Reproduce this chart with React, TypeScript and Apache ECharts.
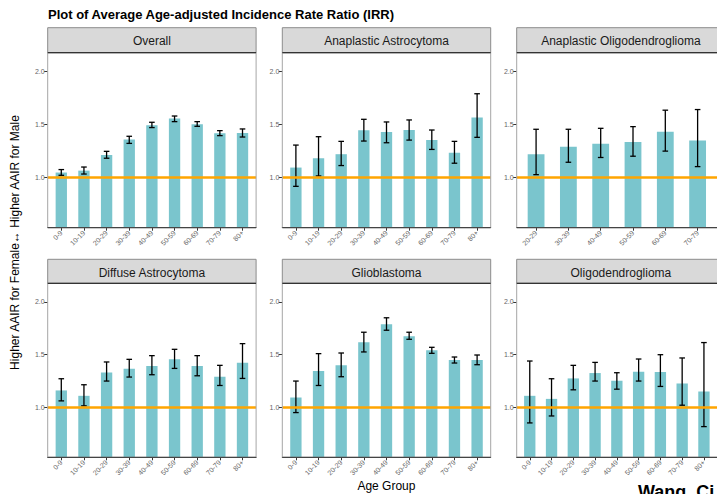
import React, { useEffect, useRef } from "react";
import * as echarts from "echarts";

// ---------- Data ----------
const PANEL_TITLES = [
  "Overall",
  "Anaplastic Astrocytoma",
  "Anaplastic Oligodendroglioma",
  "Diffuse Astrocytoma",
  "Glioblastoma",
  "Oligodendroglioma",
];
const AGE_GROUPS = ["0-9", "10-19", "20-29", "30-39", "40-49", "50-59", "60-69", "70-79", "80+"];
const AGE_GROUPS_AO = ["20-29", "30-39", "40-49", "50-59", "60-69", "70-79"];
const Y_TICKS = [1.0, 1.5, 2.0];
const REF_LINE = 1.0;

const overallIRR = [1.045, 1.063, 1.21, 1.356, 1.49, 1.554, 1.5, 1.415, 1.418];
const overallLo = [1.019, 1.031, 1.18, 1.32, 1.469, 1.525, 1.481, 1.393, 1.38];
const overallHi = [1.073, 1.097, 1.245, 1.387, 1.519, 1.578, 1.525, 1.44, 1.456];

const aaIRR = [1.092, 1.18, 1.218, 1.443, 1.427, 1.446, 1.351, 1.231, 1.563];
const aaLo = [0.915, 1.013, 1.111, 1.342, 1.326, 1.351, 1.263, 1.133, 1.377];
const aaHi = [1.304, 1.383, 1.339, 1.547, 1.522, 1.541, 1.446, 1.339, 1.788];

const aoIRR = [1.218, 1.288, 1.316, 1.332, 1.43, 1.348];
const aoLo = [1.025, 1.142, 1.187, 1.199, 1.247, 1.101];
const aoHi = [1.453, 1.453, 1.462, 1.478, 1.633, 1.639];

const daIRR = [1.159, 1.108, 1.33, 1.365, 1.39, 1.454, 1.39, 1.289, 1.422];
const daLo = [1.06, 1.013, 1.248, 1.286, 1.308, 1.368, 1.298, 1.206, 1.273];
const daHi = [1.27, 1.213, 1.429, 1.454, 1.489, 1.549, 1.489, 1.397, 1.603];

const gbmIRR = [1.092, 1.343, 1.397, 1.616, 1.787, 1.673, 1.54, 1.448, 1.448];
const gbmLo = [0.949, 1.206, 1.289, 1.524, 1.73, 1.644, 1.511, 1.419, 1.403];
const gbmHi = [1.248, 1.508, 1.514, 1.711, 1.848, 1.711, 1.568, 1.476, 1.495];

const oligoIRR = [1.108, 1.079, 1.273, 1.324, 1.251, 1.337, 1.333, 1.225, 1.149];
const oligoLo = [0.851, 0.917, 1.165, 1.248, 1.171, 1.248, 1.197, 1.019, 0.816];
const oligoHi = [1.438, 1.27, 1.397, 1.425, 1.327, 1.457, 1.498, 1.467, 1.613];

const PANELS = [
  { cats: AGE_GROUPS, v: overallIRR, lo: overallLo, hi: overallHi },
  { cats: AGE_GROUPS, v: aaIRR, lo: aaLo, hi: aaHi },
  { cats: AGE_GROUPS_AO, v: aoIRR, lo: aoLo, hi: aoHi },
  { cats: AGE_GROUPS, v: daIRR, lo: daLo, hi: daHi },
  { cats: AGE_GROUPS, v: gbmIRR, lo: gbmLo, hi: gbmHi },
  { cats: AGE_GROUPS, v: oligoIRR, lo: oligoLo, hi: oligoHi },
];

// ---------- Layout ----------
const FONT = '"Liberation Sans", Arial, Helvetica, sans-serif';
const COL_LEFT = [47.7, 282.3, 516.7];
const PANEL_W = 208.4;
const ROWS = [
  { stripTop: 27.7, plotTop: 52.7, plotBottom: 227.7 },
  { stripTop: 259.3, plotTop: 283.3, plotBottom: 457.3 },
];
const Y_MIN = 0.525;
const Y_MAX = 2.175;
const BAR_COLOR = "#7AC5CD";
const LINE_COLOR = "#FFA500";

function buildOption() {
  const grid: any[] = [];
  const xAxis: any[] = [];
  const yAxis: any[] = [];
  const series: any[] = [];
  const graphics: any[] = [];

  PANELS.forEach((p, i) => {
    const row = ROWS[Math.floor(i / 3)];
    const left = COL_LEFT[i % 3];
    const n = p.cats.length;
    const unit = PANEL_W / (n + 0.2);
    const positions = p.cats.map((_, k) => k + 1);

    grid.push({
      left,
      top: row.plotTop,
      width: PANEL_W,
      height: row.plotBottom - row.plotTop,
      containLabel: false,
    });
    xAxis.push({
      type: "value",
      gridIndex: i,
      min: 0.4,
      max: n + 0.6,
      splitLine: { show: false },
      axisLine: { show: true, onZero: false, lineStyle: { color: "#333", width: 1 } },
      axisTick: { show: true, customValues: positions, length: 3, lineStyle: { color: "#333" } },
      axisLabel: {
        customValues: positions,
        rotate: 45,
        fontSize: 7,
        color: "#666",
        margin: 4,
        fontFamily: FONT,
        formatter: (v: number) => p.cats[Math.round(v) - 1] ?? "",
      },
    });
    yAxis.push({
      type: "value",
      gridIndex: i,
      min: Y_MIN,
      max: Y_MAX,
      splitLine: { show: false },
      axisLine: { show: false },
      axisTick: { show: true, customValues: Y_TICKS, length: 3.5, lineStyle: { color: "#333" } },
      axisLabel: {
        customValues: Y_TICKS,
        fontSize: 7,
        color: "#666",
        margin: 3,
        fontFamily: FONT,
        formatter: (v: number) => v.toFixed(1),
      },
    });
    series.push({
      type: "bar",
      xAxisIndex: i,
      yAxisIndex: i,
      data: p.v.map((v, k) => [k + 1, v]),
      barWidth: 0.5 * unit,
      itemStyle: { color: BAR_COLOR },
      z: 2,
      markLine: {
        silent: true,
        symbol: "none",
        label: { show: false },
        lineStyle: { color: LINE_COLOR, width: 2.5, type: "solid" },
        data: [{ yAxis: REF_LINE }],
      },
    });
    series.push({
      type: "custom",
      xAxisIndex: i,
      yAxisIndex: i,
      z: 4,
      data: p.v.map((_, k) => [k + 1, p.lo[k], p.hi[k]]),
      encode: { x: 0, y: [1, 2] },
      renderItem: (params: any, api: any) => {
        const x = api.value(0);
        const top = api.coord([x, api.value(2)]);
        const bot = api.coord([x, api.value(1)]);
        const cw = 2.8;
        const st = { stroke: "#000", lineWidth: 1.3 };
        return {
          type: "group",
          children: [
            { type: "line", shape: { x1: top[0], y1: top[1], x2: bot[0], y2: bot[1] }, style: st },
            { type: "line", shape: { x1: top[0] - cw, y1: top[1], x2: top[0] + cw, y2: top[1] }, style: st },
            { type: "line", shape: { x1: bot[0] - cw, y1: bot[1], x2: bot[0] + cw, y2: bot[1] }, style: st },
          ],
        };
      },
    });

    // strip
    graphics.push({
      type: "rect",
      z: 100,
      shape: { x: left, y: row.stripTop, width: PANEL_W, height: row.plotTop - row.stripTop },
      style: { fill: "#D9D9D9", stroke: "#8c8c8c", lineWidth: 1 },
    });
    graphics.push({
      type: "text",
      z: 101,
      x: left + PANEL_W / 2,
      y: row.stripTop + 13.6,
      style: {
        text: PANEL_TITLES[i],
        font: `12px ${FONT}`,
        fill: "#1a1a1a",
        align: "center",
        verticalAlign: "middle",
      },
    });
    // panel border
    graphics.push({
      type: "rect",
      z: 100,
      shape: { x: left, y: row.plotTop, width: PANEL_W, height: row.plotBottom - row.plotTop },
      style: { fill: "none", stroke: "#a6a6a6", lineWidth: 1 },
    });
    graphics.push({
      type: "line",
      z: 101,
      shape: { x1: left, y1: row.plotTop, x2: left + PANEL_W, y2: row.plotTop },
      style: { stroke: "#333", lineWidth: 1.2 },
    });
    graphics.push({
      type: "line",
      z: 101,
      shape: { x1: left, y1: row.plotBottom, x2: left + PANEL_W, y2: row.plotBottom },
      style: { stroke: "#333", lineWidth: 1 },
    });
  });

  graphics.push({
    type: "text",
    z: 101,
    x: 48,
    y: 14.5,
    style: {
      text: "Plot of Average Age-adjusted Incidence Rate Ratio (IRR)",
      font: `bold 13px ${FONT}`,
      fill: "#000",
      align: "left",
      verticalAlign: "middle",
    },
  });
  graphics.push({
    type: "text",
    z: 101,
    x: 15.3,
    y: (ROWS[0].stripTop + ROWS[1].plotBottom) / 2,
    rotation: Math.PI / 2,
    style: {
      text: "Higher AAIR for Female\u2194 Higher AAIR for Male",
      font: `12px ${FONT}`,
      fill: "#000",
      align: "center",
      verticalAlign: "middle",
    },
  });
  graphics.push({
    type: "text",
    z: 101,
    x: (COL_LEFT[0] + COL_LEFT[2] + PANEL_W) / 2,
    y: 486.1,
    style: {
      text: "Age Group",
      font: `12px ${FONT}`,
      fill: "#000",
      align: "center",
      verticalAlign: "middle",
    },
  });
  graphics.push({
    type: "text",
    z: 101,
    x: 638,
    y: 491.7,
    style: {
      text: "Wang, Ci",
      font: `bold 18px ${FONT}`,
      fill: "#000",
      align: "left",
      verticalAlign: "middle",
    },
  });

  return {
    animation: false,
    backgroundColor: "#fff",
    textStyle: { fontFamily: FONT },
    grid,
    xAxis,
    yAxis,
    series,
    graphic: { elements: graphics },
  };
}

export default function App() {
  const ref = useRef<HTMLDivElement>(null);
  useEffect(() => {
    if (!ref.current) return;
    const chart = echarts.init(ref.current, undefined, { renderer: "svg" });
    chart.setOption(buildOption() as any);
    return () => chart.dispose();
  }, []);
  return (
    <div
      ref={ref}
      style={{ position: "fixed", left: 0, top: 0, width: 717, height: 494, background: "#fff" }}
    />
  );
}
